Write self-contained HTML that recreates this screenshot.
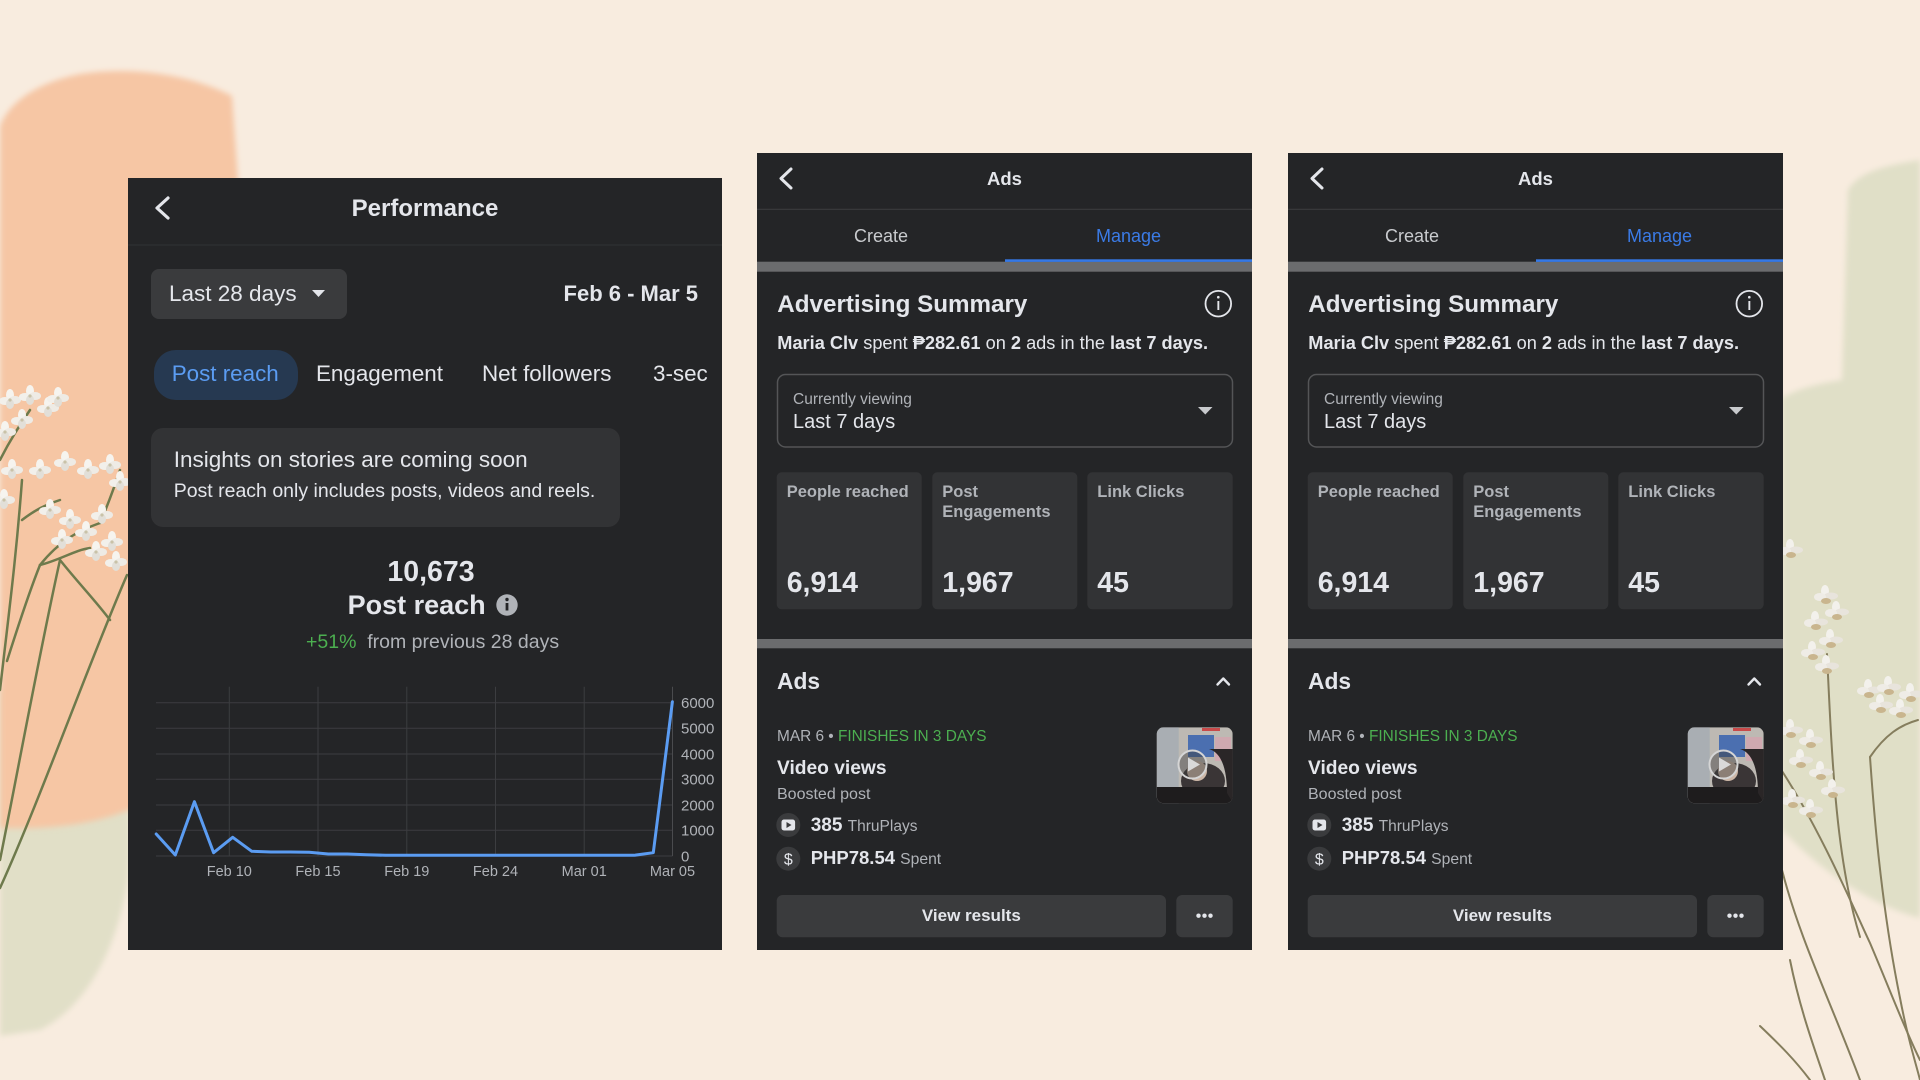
<!DOCTYPE html>
<html><head><meta charset="utf-8">
<style>
*{box-sizing:border-box}
body{margin:0;width:1920px;height:1080px;overflow:hidden;background:#f8ecdf;font-family:"Liberation Sans",Arial,sans-serif;position:relative;color:#e4e6eb}
.a{position:absolute;white-space:nowrap;line-height:1}
.pan{position:absolute;background:#242527;overflow:hidden}
.b{font-weight:bold}
.g{color:#b0b3b8}
</style></head><body>

<svg width="1920" height="1080" style="position:absolute;left:0;top:0" xmlns="http://www.w3.org/2000/svg">
<defs>
<filter id="soft" x="-10%" y="-10%" width="120%" height="120%"><feGaussianBlur stdDeviation="3"/></filter>
<g id="fl"><ellipse cx="0" cy="-5" rx="4" ry="6" fill="#f6f4ef"/><ellipse cx="5" cy="0" rx="6" ry="4" fill="#eeebe5"/><ellipse cx="-5" cy="1" rx="6" ry="4" fill="#f2f0eb"/><ellipse cx="0" cy="4" rx="4" ry="5" fill="#e2dfd8"/><circle cx="0" cy="0" r="1.6" fill="#c9c2a8"/></g>
<g id="fr"><ellipse cx="0" cy="-5" rx="4" ry="6" fill="#f3f1ec"/><ellipse cx="6" cy="0" rx="7" ry="3.5" fill="#e8e4dc"/><ellipse cx="-5" cy="1" rx="6" ry="4" fill="#efece6"/><ellipse cx="1" cy="5" rx="5" ry="3" fill="#c9b58e"/></g>
</defs>
<rect width="1920" height="1080" fill="#f8ecdf"/>
<!-- left green -->
<path d="M0,690 L95,690 C125,720 135,800 128,880 C115,960 80,1010 40,1030 L0,1036 Z" fill="#e1dfc7" filter="url(#soft)"/>
<!-- left peach -->
<path d="M0,126 C10,100 40,82 80,74 C130,66 190,74 232,96 L238,180 L238,640 C230,700 200,760 150,800 C110,822 60,830 0,828 Z" fill="#f6c6a4" filter="url(#soft)"/>
<!-- right green -->
<path d="M1920,160 C1890,165 1860,170 1848,190 L1842,380 C1815,384 1795,390 1782,398 L1782,830 C1820,870 1870,905 1920,918 Z" fill="#e0dfc7" filter="url(#soft)"/>
<!-- left stems -->
<g stroke="#6e7a4c" stroke-width="2.5" fill="none" stroke-linecap="round">
<path d="M0,888 C40,800 90,660 127,575"/>
<path d="M0,860 C20,760 40,650 60,560"/>
<path d="M0,690 C8,620 16,560 22,480"/>
<path d="M7,661 C20,620 30,590 40,565 C60,540 80,530 100,523"/>
<path d="M40,565 C60,560 75,550 90,548"/>
<path d="M22,520 C35,510 45,505 60,500"/>
<path d="M0,460 C10,440 20,425 30,410"/>
<path d="M60,560 C80,585 95,600 110,620"/>
<path d="M100,523 C110,500 115,485 120,470"/>
</g>
<g>
<use href="#fl" x="10" y="400"/><use href="#fl" x="30" y="396"/><use href="#fl" x="48" y="408"/><use href="#fl" x="22" y="420"/><use href="#fl" x="5" y="432"/><use href="#fl" x="58" y="398"/>
<use href="#fl" x="40" y="470"/><use href="#fl" x="65" y="462"/><use href="#fl" x="88" y="470"/><use href="#fl" x="110" y="465"/><use href="#fl" x="120" y="482"/>
<use href="#fl" x="50" y="510"/><use href="#fl" x="70" y="520"/><use href="#fl" x="86" y="532"/><use href="#fl" x="102" y="515"/><use href="#fl" x="112" y="542"/><use href="#fl" x="116" y="562"/><use href="#fl" x="96" y="552"/><use href="#fl" x="62" y="540"/><use href="#fl" x="12" y="470"/><use href="#fl" x="4" y="500"/>
</g>
<!-- right stems -->
<g stroke="#857d5d" stroke-width="2" fill="none" stroke-linecap="round">
<path d="M1827,654 C1832,760 1836,860 1860,937"/>
<path d="M1782,771 C1820,830 1850,900 1870,943 C1890,990 1905,1030 1920,1060"/>
<path d="M1870,757 C1873,800 1880,900 1900,998 C1908,1040 1915,1060 1920,1080"/>
<path d="M1760,1026 C1780,1045 1795,1060 1810,1080"/>
<path d="M1782,870 C1800,940 1830,1000 1860,1080"/>
<path d="M1870,757 C1885,735 1900,725 1918,720"/>
<path d="M1790,960 C1800,1010 1815,1050 1825,1080"/>
</g>
<g>
<use href="#fr" x="1825" y="596"/><use href="#fr" x="1836" y="612"/><use href="#fr" x="1815" y="622"/><use href="#fr" x="1830" y="640"/><use href="#fr" x="1812" y="652"/><use href="#fr" x="1826" y="666"/>
<use href="#fr" x="1868" y="690"/><use href="#fr" x="1888" y="687"/><use href="#fr" x="1910" y="694"/><use href="#fr" x="1900" y="710"/><use href="#fr" x="1880" y="705"/>
<use href="#fr" x="1790" y="730"/><use href="#fr" x="1810" y="740"/><use href="#fr" x="1800" y="760"/><use href="#fr" x="1820" y="772"/><use href="#fr" x="1832" y="790"/><use href="#fr" x="1810" y="810"/><use href="#fr" x="1792" y="800"/><use href="#fr" x="1790" y="550"/>
</g>
</svg>

<!-- PANEL 1 -->
<div class="pan" style="left:128px;top:178px;width:594px;height:772px;">
  <svg width="594" height="772" style="position:absolute;left:0;top:0">
    <path d="M40,20 L29,30 L40,40" stroke="#e4e6eb" stroke-width="3.2" fill="none" stroke-linecap="round" stroke-linejoin="round"/>
    <line x1="0" y1="67" x2="594" y2="67" stroke="#313234" stroke-width="1"/>
    <rect x="23" y="91" width="196" height="50" rx="8" fill="#3a3b3d"/>
    <path d="M184,112 L197,112 L190.5,119 Z" fill="#e4e6eb"/>
    <rect x="26" y="172" width="144" height="50" rx="22" fill="#263951"/>
    <rect x="23" y="250" width="469" height="99" rx="12" fill="#323335"/>
    <circle cx="379" cy="427" r="10.7" fill="#b0b3b8"/>
    <rect x="377.6" y="425" width="2.8" height="7.5" fill="#242527"/>
    <circle cx="379" cy="421.5" r="1.7" fill="#242527"/>
    <!-- chart grid -->
    <g stroke="#3c3d40" stroke-width="1">
      <line x1="28" y1="524.7" x2="544.5" y2="524.7"/>
      <line x1="28" y1="550.3" x2="544.5" y2="550.3"/>
      <line x1="28" y1="576" x2="544.5" y2="576"/>
      <line x1="28" y1="601.3" x2="544.5" y2="601.3"/>
      <line x1="28" y1="627" x2="544.5" y2="627"/>
      <line x1="28" y1="652.3" x2="544.5" y2="652.3"/>
      <line x1="28" y1="678" x2="544.5" y2="678"/>
      <line x1="101.3" y1="508.7" x2="101.3" y2="678"/>
      <line x1="190" y1="508.7" x2="190" y2="678"/>
      <line x1="278.8" y1="508.7" x2="278.8" y2="678"/>
      <line x1="367.5" y1="508.7" x2="367.5" y2="678"/>
      <line x1="456.2" y1="508.7" x2="456.2" y2="678"/>
      <line x1="544.5" y1="508.7" x2="544.5" y2="678" stroke="#4a4b4e"/>
    </g>
    <polyline fill="none" stroke="#5b9cf2" stroke-width="3" stroke-linejoin="round" stroke-linecap="round"
      points="28.2,656 47.3,677 66.4,623.7 85.6,674.7 104.7,659.3 123.8,673.3 142.9,674 162,674 181.2,674.3 200.3,676 219.4,676 238.5,676.7 257.6,677.3 276.8,677.3 295.9,677.3 315,677.3 334.1,677.3 353.2,677.3 372.4,677.3 391.5,677.3 410.6,677.3 429.7,677.3 448.8,677.3 468,677.3 487.1,677.3 506.2,677.3 525.3,674.7 544.4,523.7"/>
    <g fill="#b0b3b8" font-family="Liberation Sans, Arial, sans-serif" font-size="15">
      <text x="553" y="530">6000</text>
      <text x="553" y="555.6">5000</text>
      <text x="553" y="581.3">4000</text>
      <text x="553" y="606.6">3000</text>
      <text x="553" y="632.3">2000</text>
      <text x="553" y="657.6">1000</text>
      <text x="553" y="683.3">0</text>
    </g>
    <g fill="#b0b3b8" font-family="Liberation Sans, Arial, sans-serif" font-size="14.5" text-anchor="middle">
      <text x="101.3" y="698">Feb 10</text>
      <text x="190" y="698">Feb 15</text>
      <text x="278.8" y="698">Feb 19</text>
      <text x="367.5" y="698">Feb 24</text>
      <text x="456.2" y="698">Mar 01</text>
      <text x="544.5" y="698">Mar 05</text>
    </g>
  </svg>
  <div class="a b" style="left:0;width:594px;text-align:center;top:19.4px;font-size:24px;">Performance</div>
  <div class="a" style="left:41px;top:104.7px;font-size:22.5px;">Last 28 days</div>
  <div class="a b" style="right:24px;top:105.1px;font-size:22px;">Feb 6 - Mar 5</div>
  <div class="a" style="left:43.7px;top:185.3px;font-size:22.4px;color:#5b9cf2;">Post reach</div>
  <div class="a" style="left:188px;top:185.3px;font-size:22.4px;">Engagement</div>
  <div class="a" style="left:354px;top:185.3px;font-size:22.4px;">Net followers</div>
  <div class="a" style="left:525px;top:185.3px;font-size:22.4px;">3-sec</div>
  <div class="a" style="left:45.7px;top:271.3px;font-size:22.5px;">Insights on stories are coming soon</div>
  <div class="a" style="left:45.7px;top:303.8px;font-size:19.5px;">Post reach only includes posts, videos and reels.</div>
  <div class="a b" style="left:203px;width:200px;text-align:center;top:379.6px;font-size:28.5px;">10,673</div>
  <div class="a b" style="left:219.6px;top:414.1px;font-size:27px;">Post reach</div>
  <div class="a" style="left:178px;top:454.5px;font-size:19.5px;color:#b0b3b8;"><span style="color:#4caf50">+51%</span>&nbsp; from previous 28 days</div>
</div>

<!-- PANEL 2 -->
<div class="pan" style="left:757px;top:153px;width:495px;height:797px;">
  <svg width="495" height="797" style="position:absolute;left:0;top:0">
    <path d="M34,16 L24,25.5 L34,35" stroke="#e4e6eb" stroke-width="3" fill="none" stroke-linecap="round" stroke-linejoin="round"/>
    <line x1="0" y1="56.3" x2="495" y2="56.3" stroke="#3a3b3d" stroke-width="1.2"/>
    <rect x="0" y="108.7" width="495" height="10" fill="#6b6c6e"/>
    <rect x="248" y="106.3" width="247" height="2.6" fill="#3578e5"/>
    <circle cx="461.3" cy="150.7" r="12.8" fill="none" stroke="#e4e6eb" stroke-width="1.8"/>
    <rect x="460.4" y="148" width="1.9" height="9" fill="#e4e6eb"/>
    <circle cx="461.3" cy="144.2" r="1.3" fill="#e4e6eb"/>
    <rect x="20.5" y="221.5" width="455" height="72.5" rx="8" fill="none" stroke="#545557" stroke-width="1.5"/>
    <path d="M441,254 L455.5,254 L448.3,261.5 Z" fill="#c8cacd"/>
    <rect x="19.7" y="319.3" width="145" height="137" rx="5" fill="#323335"/>
    <rect x="175.3" y="319.3" width="145" height="137" rx="5" fill="#323335"/>
    <rect x="330.3" y="319.3" width="145.4" height="137" rx="5" fill="#323335"/>
    <rect x="0" y="486" width="495" height="9.3" fill="#6b6c6e"/>
    <path d="M460.5,531.5 L466.3,525.5 L472,531.5" stroke="#e4e6eb" stroke-width="2.4" fill="none" stroke-linecap="round" stroke-linejoin="round"/>
    <circle cx="31.3" cy="672" r="12" fill="#3a3b3d"/>
    <rect x="24.5" y="666.5" width="13.6" height="11" rx="2.5" fill="#e4e6eb"/>
    <path d="M29.5,669 L34.5,672 L29.5,675 Z" fill="#3a3b3d"/>
    <circle cx="31.3" cy="705.7" r="12" fill="#3a3b3d"/>
    <text x="31.3" y="711.5" text-anchor="middle" fill="#e4e6eb" font-family="Liberation Sans, Arial, sans-serif" font-size="16">$</text>
    <!-- thumbnail -->
    <clipPath id="th2"><rect x="399.7" y="574.3" width="76" height="76" rx="7"/></clipPath>
    <g clip-path="url(#th2)">
      <rect x="399.7" y="574.3" width="76" height="76" fill="#bdb9b3"/>
      <rect x="399.7" y="574.3" width="22" height="76" fill="#a9aeb3"/>
      <rect x="431" y="582" width="26" height="22" fill="#4b6fb0"/>
      <rect x="458" y="584" width="16" height="24" fill="#cfa9b0"/>
      <rect x="445" y="575" width="18" height="3" fill="#c84a4a"/>
      <ellipse cx="446" cy="628" rx="22" ry="18" fill="#3a3536"/>
      <ellipse cx="440" cy="618" rx="10" ry="10" fill="#cdb7a7"/>
      <rect x="399.7" y="634" width="76" height="18" fill="#1e1c1d"/>
      <path d="M452,596 C466,600 470,620 470,640 L476,650 L476,596 Z" fill="#2a2627"/>
    </g>
    <circle cx="435.5" cy="611.5" r="14" fill="rgba(60,60,60,0.45)" stroke="#d5d5d5" stroke-width="2"/>
    <path d="M431,604.5 L443,611.5 L431,618.5 Z" fill="#d9d9d9"/>
    <rect x="19.7" y="742" width="389.3" height="42.3" rx="6" fill="#3a3b3d"/>
    <rect x="419.3" y="742" width="56.4" height="42.3" rx="6" fill="#3a3b3d"/>
    <circle cx="441.5" cy="762.7" r="2.2" fill="#e4e6eb"/>
    <circle cx="447.5" cy="762.7" r="2.2" fill="#e4e6eb"/>
    <circle cx="453.5" cy="762.7" r="2.2" fill="#e4e6eb"/>
  </svg>
  <div class="a b" style="left:0;width:495px;text-align:center;top:17px;font-size:18.5px;">Ads</div>
  <div class="a" style="left:0;width:248px;text-align:center;top:73.5px;font-size:18px;color:#c9cbce;">Create</div>
  <div class="a" style="left:248px;width:247px;text-align:center;top:73.5px;font-size:18px;color:#3b7be6;">Manage</div>
  <div class="a b" style="left:20.3px;top:139.8px;font-size:24.2px;">Advertising Summary</div>
  <div class="a" style="left:20.3px;top:181.4px;font-size:18.2px;"><b>Maria Clv</b> spent <b>₱282.61</b> on <b>2</b> ads in the <b>last 7 days.</b></div>
  <div class="a" style="left:36px;top:238.9px;font-size:15.5px;color:#b0b3b8;">Currently viewing</div>
  <div class="a" style="left:36px;top:259px;font-size:20px;">Last 7 days</div>
  <div class="a b g" style="left:29.7px;top:329px;font-size:16.5px;line-height:20px;">People reached</div>
  <div class="a b g" style="left:185.3px;top:329px;font-size:16.5px;line-height:20px;">Post<br>Engagements</div>
  <div class="a b g" style="left:340.3px;top:329px;font-size:16.5px;line-height:20px;">Link Clicks</div>
  <div class="a b" style="left:29.7px;top:416.2px;font-size:28.5px;">6,914</div>
  <div class="a b" style="left:185.3px;top:416.2px;font-size:28.5px;">1,967</div>
  <div class="a b" style="left:340.3px;top:416.2px;font-size:28.5px;">45</div>
  <div class="a b" style="left:20px;top:516.7px;font-size:22.8px;">Ads</div>
  <div class="a" style="left:20px;top:576px;font-size:15.4px;color:#b0b3b8;">MAR 6 • <span style="color:#4caf50">FINISHES IN 3 DAYS</span></div>
  <div class="a b" style="left:20px;top:605.7px;font-size:19.2px;">Video views</div>
  <div class="a" style="left:20px;top:633.5px;font-size:16px;color:#b0b3b8;">Boosted post</div>
  <div class="a" style="left:53.7px;top:662.6px;font-size:19px;"><b>385</b> <span style="font-size:15.5px;color:#b0b3b8">ThruPlays</span></div>
  <div class="a" style="left:53.7px;top:695.9px;font-size:18.5px;"><b>PHP78.54</b> <span style="font-size:15.7px;color:#b0b3b8">Spent</span></div>
  <div class="a b" style="left:19.7px;width:389.3px;text-align:center;top:754.3px;font-size:17px;">View results</div>
</div>

<!-- PANEL 3 -->
<div class="pan" style="left:1288px;top:153px;width:495px;height:797px;">
  <svg width="495" height="797" style="position:absolute;left:0;top:0">
    <path d="M34,16 L24,25.5 L34,35" stroke="#e4e6eb" stroke-width="3" fill="none" stroke-linecap="round" stroke-linejoin="round"/>
    <line x1="0" y1="56.3" x2="495" y2="56.3" stroke="#3a3b3d" stroke-width="1.2"/>
    <rect x="0" y="108.7" width="495" height="10" fill="#6b6c6e"/>
    <rect x="248" y="106.3" width="247" height="2.6" fill="#3578e5"/>
    <circle cx="461.3" cy="150.7" r="12.8" fill="none" stroke="#e4e6eb" stroke-width="1.8"/>
    <rect x="460.4" y="148" width="1.9" height="9" fill="#e4e6eb"/>
    <circle cx="461.3" cy="144.2" r="1.3" fill="#e4e6eb"/>
    <rect x="20.5" y="221.5" width="455" height="72.5" rx="8" fill="none" stroke="#545557" stroke-width="1.5"/>
    <path d="M441,254 L455.5,254 L448.3,261.5 Z" fill="#c8cacd"/>
    <rect x="19.7" y="319.3" width="145" height="137" rx="5" fill="#323335"/>
    <rect x="175.3" y="319.3" width="145" height="137" rx="5" fill="#323335"/>
    <rect x="330.3" y="319.3" width="145.4" height="137" rx="5" fill="#323335"/>
    <rect x="0" y="486" width="495" height="9.3" fill="#6b6c6e"/>
    <path d="M460.5,531.5 L466.3,525.5 L472,531.5" stroke="#e4e6eb" stroke-width="2.4" fill="none" stroke-linecap="round" stroke-linejoin="round"/>
    <circle cx="31.3" cy="672" r="12" fill="#3a3b3d"/>
    <rect x="24.5" y="666.5" width="13.6" height="11" rx="2.5" fill="#e4e6eb"/>
    <path d="M29.5,669 L34.5,672 L29.5,675 Z" fill="#3a3b3d"/>
    <circle cx="31.3" cy="705.7" r="12" fill="#3a3b3d"/>
    <text x="31.3" y="711.5" text-anchor="middle" fill="#e4e6eb" font-family="Liberation Sans, Arial, sans-serif" font-size="16">$</text>
    <clipPath id="th3"><rect x="399.7" y="574.3" width="76" height="76" rx="7"/></clipPath>
    <g clip-path="url(#th3)">
      <rect x="399.7" y="574.3" width="76" height="76" fill="#bdb9b3"/>
      <rect x="399.7" y="574.3" width="22" height="76" fill="#a9aeb3"/>
      <rect x="431" y="582" width="26" height="22" fill="#4b6fb0"/>
      <rect x="458" y="584" width="16" height="24" fill="#cfa9b0"/>
      <rect x="445" y="575" width="18" height="3" fill="#c84a4a"/>
      <ellipse cx="446" cy="628" rx="22" ry="18" fill="#3a3536"/>
      <ellipse cx="440" cy="618" rx="10" ry="10" fill="#cdb7a7"/>
      <rect x="399.7" y="634" width="76" height="18" fill="#1e1c1d"/>
      <path d="M452,596 C466,600 470,620 470,640 L476,650 L476,596 Z" fill="#2a2627"/>
    </g>
    <circle cx="435.5" cy="611.5" r="14" fill="rgba(60,60,60,0.45)" stroke="#d5d5d5" stroke-width="2"/>
    <path d="M431,604.5 L443,611.5 L431,618.5 Z" fill="#d9d9d9"/>
    <rect x="19.7" y="742" width="389.3" height="42.3" rx="6" fill="#3a3b3d"/>
    <rect x="419.3" y="742" width="56.4" height="42.3" rx="6" fill="#3a3b3d"/>
    <circle cx="441.5" cy="762.7" r="2.2" fill="#e4e6eb"/>
    <circle cx="447.5" cy="762.7" r="2.2" fill="#e4e6eb"/>
    <circle cx="453.5" cy="762.7" r="2.2" fill="#e4e6eb"/>
  </svg>
  <div class="a b" style="left:0;width:495px;text-align:center;top:17px;font-size:18.5px;">Ads</div>
  <div class="a" style="left:0;width:248px;text-align:center;top:73.5px;font-size:18px;color:#c9cbce;">Create</div>
  <div class="a" style="left:248px;width:247px;text-align:center;top:73.5px;font-size:18px;color:#3b7be6;">Manage</div>
  <div class="a b" style="left:20.3px;top:139.8px;font-size:24.2px;">Advertising Summary</div>
  <div class="a" style="left:20.3px;top:181.4px;font-size:18.2px;"><b>Maria Clv</b> spent <b>₱282.61</b> on <b>2</b> ads in the <b>last 7 days.</b></div>
  <div class="a" style="left:36px;top:238.9px;font-size:15.5px;color:#b0b3b8;">Currently viewing</div>
  <div class="a" style="left:36px;top:259px;font-size:20px;">Last 7 days</div>
  <div class="a b g" style="left:29.7px;top:329px;font-size:16.5px;line-height:20px;">People reached</div>
  <div class="a b g" style="left:185.3px;top:329px;font-size:16.5px;line-height:20px;">Post<br>Engagements</div>
  <div class="a b g" style="left:340.3px;top:329px;font-size:16.5px;line-height:20px;">Link Clicks</div>
  <div class="a b" style="left:29.7px;top:416.2px;font-size:28.5px;">6,914</div>
  <div class="a b" style="left:185.3px;top:416.2px;font-size:28.5px;">1,967</div>
  <div class="a b" style="left:340.3px;top:416.2px;font-size:28.5px;">45</div>
  <div class="a b" style="left:20px;top:516.7px;font-size:22.8px;">Ads</div>
  <div class="a" style="left:20px;top:576px;font-size:15.4px;color:#b0b3b8;">MAR 6 • <span style="color:#4caf50">FINISHES IN 3 DAYS</span></div>
  <div class="a b" style="left:20px;top:605.7px;font-size:19.2px;">Video views</div>
  <div class="a" style="left:20px;top:633.5px;font-size:16px;color:#b0b3b8;">Boosted post</div>
  <div class="a" style="left:53.7px;top:662.6px;font-size:19px;"><b>385</b> <span style="font-size:15.5px;color:#b0b3b8">ThruPlays</span></div>
  <div class="a" style="left:53.7px;top:695.9px;font-size:18.5px;"><b>PHP78.54</b> <span style="font-size:15.7px;color:#b0b3b8">Spent</span></div>
  <div class="a b" style="left:19.7px;width:389.3px;text-align:center;top:754.3px;font-size:17px;">View results</div>
</div>

</body></html>
